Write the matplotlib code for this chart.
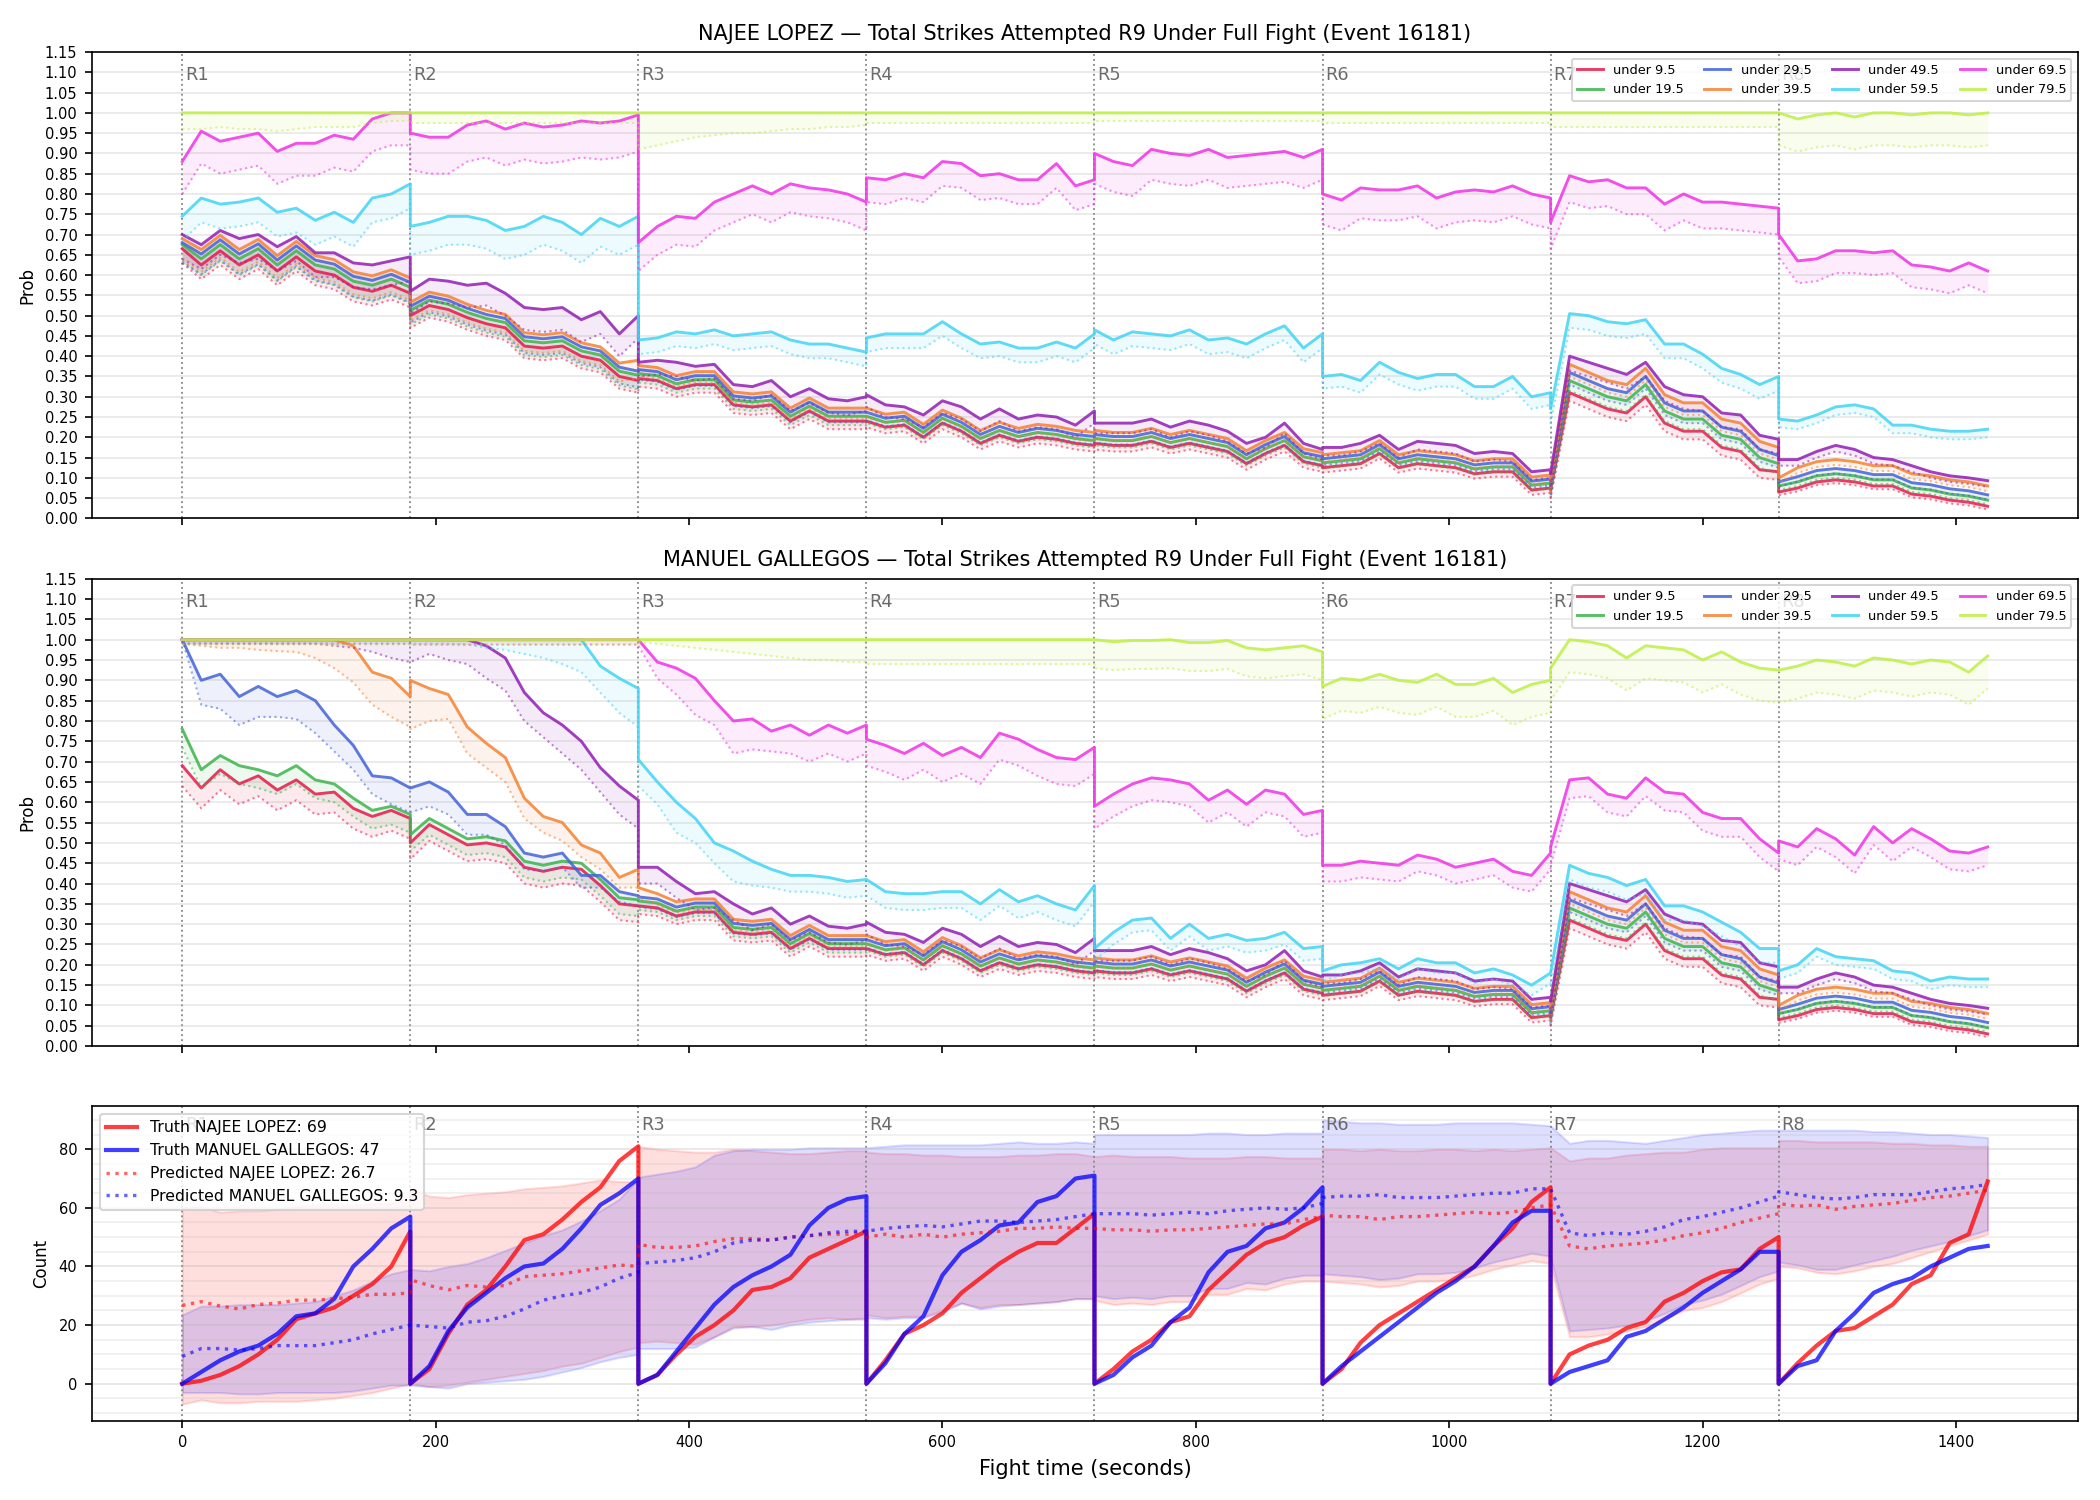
import numpy as np
import matplotlib
matplotlib.use("Agg")
from matplotlib import pyplot as plt
from matplotlib.ticker import MultipleLocator
import matplotlib.transforms as mtransforms

# ------------------------------------------------------------------
# Datos: una lista por asalto (muestras cada 15 s dentro del asalto)
# ------------------------------------------------------------------
ROUND_STARTS = [0, 180, 360, 540, 720, 900, 1080, 1260]
ROUND_OFFSETS = [list(range(0, 181, 15))] * 7 + [list(range(0, 166, 15))]

THRESHOLDS = ["under 9.5", "under 19.5", "under 29.5", "under 39.5",
              "under 49.5", "under 59.5", "under 69.5", "under 79.5"]
COLORS = ["#e6194b", "#3cb44b", "#4363d8", "#f58231",
          "#911eb4", "#42d4f4", "#f032e6", "#bfef45"]

# --- NAJEE LOPEZ, probabilidades ---
lop_u9 = [
    [0.665, 0.625, 0.66, 0.625, 0.65, 0.61, 0.645, 0.61, 0.60, 0.57, 0.56, 0.575, 0.555],
    [0.50, 0.525, 0.515, 0.495, 0.48, 0.47, 0.425, 0.42, 0.425, 0.40, 0.39, 0.35, 0.34],
    [0.345, 0.34, 0.32, 0.33, 0.33, 0.28, 0.275, 0.28, 0.24, 0.265, 0.24, 0.24, 0.24],
    [0.24, 0.225, 0.23, 0.20, 0.235, 0.215, 0.185, 0.205, 0.19, 0.20, 0.195, 0.185, 0.18],
    [0.185, 0.18, 0.18, 0.19, 0.175, 0.185, 0.175, 0.165, 0.135, 0.16, 0.18, 0.14, 0.13],
    [0.125, 0.13, 0.135, 0.16, 0.125, 0.135, 0.13, 0.125, 0.11, 0.115, 0.115, 0.07, 0.075],
    [0.07, 0.31, 0.29, 0.27, 0.26, 0.30, 0.235, 0.215, 0.215, 0.175, 0.165, 0.12, 0.115],
    [0.065, 0.075, 0.09, 0.095, 0.09, 0.08, 0.08, 0.06, 0.055, 0.045, 0.04, 0.03],
]
lop_u19 = [
    [0.675, 0.64, 0.675, 0.64, 0.665, 0.625, 0.66, 0.625, 0.615, 0.585, 0.575, 0.59, 0.57],
    [0.513, 0.538, 0.528, 0.508, 0.493, 0.483, 0.438, 0.433, 0.438, 0.413, 0.403, 0.363, 0.353],
    [0.357, 0.352, 0.332, 0.342, 0.342, 0.292, 0.287, 0.292, 0.252, 0.277, 0.252, 0.252, 0.252],
    [0.252, 0.237, 0.242, 0.212, 0.247, 0.227, 0.197, 0.217, 0.202, 0.212, 0.207, 0.197, 0.192],
    [0.197, 0.192, 0.192, 0.202, 0.187, 0.197, 0.187, 0.177, 0.147, 0.172, 0.192, 0.152, 0.142],
    [0.137, 0.142, 0.147, 0.172, 0.137, 0.147, 0.142, 0.137, 0.122, 0.127, 0.127, 0.082, 0.087],
    [0.08, 0.34, 0.32, 0.30, 0.29, 0.33, 0.265, 0.245, 0.245, 0.205, 0.195, 0.15, 0.135],
    [0.08, 0.09, 0.105, 0.11, 0.105, 0.095, 0.095, 0.075, 0.07, 0.06, 0.055, 0.045],
]
lop_u29 = [
    [0.68, 0.652, 0.687, 0.652, 0.677, 0.637, 0.672, 0.637, 0.627, 0.597, 0.587, 0.602, 0.582],
    [0.523, 0.548, 0.538, 0.518, 0.503, 0.493, 0.448, 0.443, 0.448, 0.423, 0.413, 0.373, 0.363],
    [0.367, 0.362, 0.342, 0.352, 0.352, 0.302, 0.297, 0.302, 0.262, 0.287, 0.262, 0.262, 0.262],
    [0.262, 0.247, 0.252, 0.222, 0.257, 0.237, 0.207, 0.227, 0.212, 0.222, 0.217, 0.207, 0.202],
    [0.207, 0.202, 0.202, 0.212, 0.197, 0.207, 0.197, 0.187, 0.157, 0.182, 0.202, 0.162, 0.152],
    [0.147, 0.152, 0.157, 0.182, 0.147, 0.157, 0.152, 0.147, 0.132, 0.137, 0.137, 0.092, 0.097],
    [0.085, 0.36, 0.34, 0.32, 0.31, 0.35, 0.285, 0.265, 0.265, 0.225, 0.215, 0.17, 0.155],
    [0.09, 0.103, 0.118, 0.123, 0.118, 0.108, 0.108, 0.088, 0.083, 0.073, 0.068, 0.058],
]
lop_u39 = [
    [0.69, 0.663, 0.698, 0.663, 0.688, 0.648, 0.683, 0.648, 0.638, 0.608, 0.598, 0.613, 0.593],
    [0.533, 0.558, 0.548, 0.528, 0.513, 0.503, 0.458, 0.453, 0.458, 0.433, 0.423, 0.383, 0.39],
    [0.377, 0.372, 0.352, 0.362, 0.362, 0.312, 0.307, 0.312, 0.272, 0.297, 0.272, 0.272, 0.272],
    [0.272, 0.257, 0.262, 0.232, 0.267, 0.247, 0.217, 0.237, 0.222, 0.232, 0.227, 0.217, 0.212],
    [0.217, 0.212, 0.212, 0.222, 0.207, 0.217, 0.207, 0.197, 0.167, 0.192, 0.212, 0.172, 0.162],
    [0.157, 0.162, 0.167, 0.192, 0.157, 0.167, 0.162, 0.157, 0.142, 0.147, 0.147, 0.102, 0.107],
    [0.095, 0.38, 0.36, 0.34, 0.33, 0.37, 0.305, 0.285, 0.285, 0.245, 0.235, 0.19, 0.175],
    [0.10, 0.125, 0.14, 0.145, 0.14, 0.13, 0.13, 0.11, 0.105, 0.095, 0.09, 0.08],
]
lop_u49 = [
    [0.70, 0.675, 0.71, 0.69, 0.70, 0.67, 0.695, 0.655, 0.655, 0.63, 0.625, 0.635, 0.645],
    [0.56, 0.59, 0.585, 0.575, 0.58, 0.555, 0.52, 0.515, 0.52, 0.49, 0.51, 0.455, 0.50],
    [0.385, 0.39, 0.385, 0.375, 0.38, 0.33, 0.325, 0.34, 0.30, 0.32, 0.295, 0.29, 0.30],
    [0.305, 0.28, 0.275, 0.255, 0.29, 0.275, 0.245, 0.27, 0.245, 0.255, 0.25, 0.23, 0.265],
    [0.235, 0.235, 0.235, 0.245, 0.225, 0.24, 0.23, 0.215, 0.185, 0.20, 0.235, 0.185, 0.17],
    [0.175, 0.175, 0.185, 0.205, 0.17, 0.19, 0.185, 0.18, 0.16, 0.165, 0.16, 0.115, 0.12],
    [0.11, 0.40, 0.385, 0.37, 0.355, 0.385, 0.325, 0.305, 0.30, 0.26, 0.255, 0.205, 0.195],
    [0.145, 0.145, 0.165, 0.18, 0.17, 0.15, 0.145, 0.13, 0.115, 0.105, 0.10, 0.093],
]
lop_u59 = [
    [0.745, 0.79, 0.775, 0.78, 0.79, 0.755, 0.765, 0.735, 0.755, 0.73, 0.79, 0.80, 0.825],
    [0.72, 0.73, 0.745, 0.745, 0.735, 0.71, 0.72, 0.745, 0.73, 0.70, 0.74, 0.72, 0.745],
    [0.44, 0.445, 0.46, 0.455, 0.465, 0.45, 0.455, 0.46, 0.44, 0.43, 0.43, 0.42, 0.41],
    [0.445, 0.455, 0.455, 0.455, 0.485, 0.455, 0.43, 0.435, 0.42, 0.42, 0.435, 0.42, 0.455],
    [0.465, 0.44, 0.46, 0.455, 0.45, 0.465, 0.44, 0.445, 0.43, 0.455, 0.475, 0.42, 0.455],
    [0.35, 0.355, 0.34, 0.385, 0.36, 0.345, 0.355, 0.355, 0.325, 0.325, 0.35, 0.30, 0.31],
    [0.27, 0.505, 0.50, 0.485, 0.48, 0.49, 0.43, 0.43, 0.405, 0.37, 0.355, 0.33, 0.35],
    [0.245, 0.24, 0.255, 0.275, 0.28, 0.27, 0.23, 0.23, 0.22, 0.215, 0.215, 0.22],
]
lop_u69 = [
    [0.88, 0.955, 0.93, 0.94, 0.95, 0.905, 0.925, 0.925, 0.945, 0.935, 0.985, 1.0, 1.0],
    [0.95, 0.94, 0.94, 0.97, 0.98, 0.96, 0.975, 0.965, 0.97, 0.98, 0.975, 0.98, 0.995],
    [0.68, 0.72, 0.745, 0.74, 0.78, 0.80, 0.82, 0.80, 0.825, 0.815, 0.81, 0.80, 0.78],
    [0.84, 0.835, 0.85, 0.84, 0.88, 0.875, 0.845, 0.85, 0.835, 0.835, 0.875, 0.82, 0.835],
    [0.90, 0.88, 0.87, 0.91, 0.90, 0.895, 0.91, 0.89, 0.895, 0.90, 0.905, 0.89, 0.91],
    [0.80, 0.785, 0.815, 0.81, 0.81, 0.82, 0.79, 0.805, 0.81, 0.805, 0.82, 0.80, 0.79],
    [0.73, 0.845, 0.83, 0.835, 0.815, 0.815, 0.775, 0.80, 0.78, 0.78, 0.775, 0.77, 0.765],
    [0.70, 0.635, 0.64, 0.66, 0.66, 0.655, 0.66, 0.625, 0.62, 0.61, 0.63, 0.61],
]
lop_u79 = [
    [1.0, 1.0, 1.0, 1.0, 1.0, 1.0, 1.0, 1.0, 1.0, 1.0, 1.0, 1.0, 1.0],
    [1.0, 1.0, 1.0, 1.0, 1.0, 1.0, 1.0, 1.0, 1.0, 1.0, 1.0, 1.0, 1.0],
    [1.0, 1.0, 1.0, 1.0, 1.0, 1.0, 1.0, 1.0, 1.0, 1.0, 1.0, 1.0, 1.0],
    [1.0, 1.0, 1.0, 1.0, 1.0, 1.0, 1.0, 1.0, 1.0, 1.0, 1.0, 1.0, 1.0],
    [1.0, 1.0, 1.0, 1.0, 1.0, 1.0, 1.0, 1.0, 1.0, 1.0, 1.0, 1.0, 1.0],
    [1.0, 1.0, 1.0, 1.0, 1.0, 1.0, 1.0, 1.0, 1.0, 1.0, 1.0, 1.0, 1.0],
    [1.0, 1.0, 1.0, 1.0, 1.0, 1.0, 1.0, 1.0, 1.0, 1.0, 1.0, 1.0, 1.0],
    [1.0, 0.985, 0.995, 1.0, 0.99, 1.0, 1.0, 0.995, 1.0, 1.0, 0.995, 1.0],
]

# anchura de la banda (linea solida - linea punteada), por asalto
lop_w9 = [0.035, 0.03, 0.02, 0.015, 0.015, 0.012, 0.02, 0.008]
lop_w19 = [0.04, 0.035, 0.022, 0.017, 0.017, 0.014, 0.025, 0.01]
lop_w29 = [0.05, 0.04, 0.025, 0.02, 0.02, 0.016, 0.03, 0.012]
lop_w39 = [0.055, 0.045, 0.027, 0.022, 0.02, 0.018, 0.03, 0.013]
lop_w49 = [0.06, 0.055, 0.035, 0.03, 0.025, 0.02, 0.035, 0.015]
lop_w59 = [0.06, 0.07, 0.035, 0.035, 0.035, 0.03, 0.035, 0.02]
lop_w69 = [0.08, 0.09, 0.07, 0.06, 0.075, 0.075, 0.065, 0.055]
lop_w79 = [[0.04, 0.04, 0.035, 0.04, 0.04, 0.045, 0.04, 0.035, 0.035, 0.035, 0.025, 0.02, 0.02],
           0.025,
           [0.09, 0.08, 0.07, 0.06, 0.055, 0.05, 0.05, 0.045, 0.04, 0.04, 0.035, 0.035, 0.03],
           0.025, 0.02, 0.025, 0.035, 0.08]

# --- MANUEL GALLEGOS, probabilidades ---
gal_u9 = [
    [0.69, 0.635, 0.68, 0.645, 0.665, 0.63, 0.655, 0.62, 0.625, 0.585, 0.565, 0.58, 0.56],
    [0.50, 0.545, 0.52, 0.495, 0.50, 0.49, 0.44, 0.43, 0.44, 0.435, 0.395, 0.35, 0.345],
] + lop_u9[2:]
gal_u19 = [
    [0.78, 0.68, 0.715, 0.69, 0.68, 0.665, 0.69, 0.655, 0.645, 0.61, 0.58, 0.59, 0.57],
    [0.52, 0.56, 0.535, 0.51, 0.515, 0.505, 0.455, 0.445, 0.455, 0.45, 0.41, 0.365, 0.36],
] + lop_u19[2:]
gal_u29 = [
    [1.0, 0.90, 0.915, 0.86, 0.885, 0.86, 0.875, 0.85, 0.79, 0.74, 0.665, 0.66, 0.635],
    [0.635, 0.65, 0.625, 0.57, 0.57, 0.54, 0.475, 0.465, 0.475, 0.42, 0.42, 0.38, 0.37],
] + lop_u29[2:]
gal_u39 = [
    [1.0, 1.0, 1.0, 1.0, 1.0, 1.0, 1.0, 1.0, 1.0, 0.985, 0.92, 0.905, 0.86],
    [0.90, 0.88, 0.865, 0.785, 0.745, 0.71, 0.61, 0.565, 0.55, 0.495, 0.475, 0.415, 0.435],
    [0.39, 0.375, 0.355, 0.362, 0.362, 0.312, 0.307, 0.312, 0.272, 0.297, 0.272, 0.272, 0.272],
] + lop_u39[3:]
gal_u49 = [
    [1.0, 1.0, 1.0, 1.0, 1.0, 1.0, 1.0, 1.0, 1.0, 1.0, 1.0, 1.0, 1.0],
    [1.0, 1.0, 1.0, 1.0, 0.985, 0.955, 0.87, 0.82, 0.79, 0.75, 0.685, 0.64, 0.605],
    [0.44, 0.44, 0.405, 0.375, 0.38, 0.35, 0.325, 0.34, 0.30, 0.32, 0.295, 0.29, 0.30],
] + lop_u49[3:]
gal_u59 = [
    [1.0, 1.0, 1.0, 1.0, 1.0, 1.0, 1.0, 1.0, 1.0, 1.0, 1.0, 1.0, 1.0],
    [1.0, 1.0, 1.0, 1.0, 1.0, 1.0, 1.0, 1.0, 1.0, 1.0, 0.935, 0.905, 0.88],
    [0.705, 0.65, 0.60, 0.56, 0.50, 0.48, 0.455, 0.435, 0.42, 0.42, 0.415, 0.405, 0.41],
    [0.41, 0.38, 0.375, 0.375, 0.38, 0.38, 0.35, 0.385, 0.355, 0.37, 0.35, 0.335, 0.395],
    [0.24, 0.28, 0.31, 0.315, 0.265, 0.30, 0.265, 0.275, 0.26, 0.265, 0.28, 0.24, 0.245],
    [0.185, 0.20, 0.205, 0.215, 0.19, 0.215, 0.205, 0.205, 0.18, 0.19, 0.175, 0.15, 0.18],
    [0.18, 0.445, 0.425, 0.415, 0.395, 0.41, 0.345, 0.345, 0.33, 0.305, 0.28, 0.24, 0.24],
    [0.185, 0.20, 0.24, 0.22, 0.215, 0.21, 0.185, 0.18, 0.16, 0.17, 0.165, 0.165],
]
gal_u69 = [
    [1.0, 1.0, 1.0, 1.0, 1.0, 1.0, 1.0, 1.0, 1.0, 1.0, 1.0, 1.0, 1.0],
    [1.0, 1.0, 1.0, 1.0, 1.0, 1.0, 1.0, 1.0, 1.0, 1.0, 1.0, 1.0, 1.0],
    [1.0, 0.945, 0.93, 0.905, 0.85, 0.80, 0.805, 0.775, 0.79, 0.765, 0.79, 0.77, 0.79],
    [0.755, 0.74, 0.72, 0.745, 0.715, 0.735, 0.71, 0.77, 0.755, 0.73, 0.71, 0.705, 0.735],
    [0.59, 0.62, 0.645, 0.66, 0.655, 0.645, 0.605, 0.63, 0.595, 0.63, 0.62, 0.57, 0.58],
    [0.445, 0.445, 0.455, 0.45, 0.445, 0.47, 0.46, 0.44, 0.45, 0.46, 0.43, 0.42, 0.475],
    [0.49, 0.655, 0.66, 0.62, 0.61, 0.66, 0.625, 0.62, 0.575, 0.56, 0.56, 0.51, 0.475],
    [0.505, 0.49, 0.535, 0.51, 0.47, 0.54, 0.50, 0.535, 0.51, 0.48, 0.475, 0.49],
]
gal_u79 = [
    [1.0, 1.0, 1.0, 1.0, 1.0, 1.0, 1.0, 1.0, 1.0, 1.0, 1.0, 1.0, 1.0],
    [1.0, 1.0, 1.0, 1.0, 1.0, 1.0, 1.0, 1.0, 1.0, 1.0, 1.0, 1.0, 1.0],
    [1.0, 1.0, 1.0, 1.0, 1.0, 1.0, 1.0, 1.0, 1.0, 1.0, 1.0, 1.0, 1.0],
    [1.0, 1.0, 1.0, 1.0, 1.0, 1.0, 1.0, 1.0, 1.0, 1.0, 1.0, 1.0, 1.0],
    [1.0, 0.995, 0.998, 0.998, 1.0, 0.993, 0.993, 0.998, 0.98, 0.975, 0.98, 0.985, 0.97],
    [0.885, 0.905, 0.90, 0.915, 0.90, 0.895, 0.915, 0.89, 0.89, 0.905, 0.87, 0.89, 0.90],
    [0.93, 1.0, 0.995, 0.985, 0.955, 0.985, 0.98, 0.975, 0.95, 0.97, 0.945, 0.93, 0.925],
    [0.925, 0.935, 0.95, 0.945, 0.935, 0.955, 0.95, 0.94, 0.95, 0.945, 0.92, 0.96],
]

gal_w9 = [0.05, 0.04, 0.02, 0.015, 0.015, 0.012, 0.02, 0.008]
gal_w19 = [0.045, 0.04, 0.022, 0.017, 0.017, 0.014, 0.025, 0.01]
gal_w29 = [[0.0, 0.06, 0.085, 0.07, 0.075, 0.05, 0.07, 0.08, 0.065, 0.06, 0.045, 0.065, 0.06],
           [0.06, 0.06, 0.055, 0.05, 0.05, 0.045, 0.04, 0.035, 0.035, 0.03, 0.03, 0.025, 0.025],
           0.025, 0.02, 0.02, 0.016, 0.03, 0.012]
gal_w39 = [[0.01, 0.015, 0.02, 0.02, 0.025, 0.028, 0.03, 0.045, 0.07, 0.09, 0.08, 0.095, 0.075],
           [0.12, 0.08, 0.06, 0.065, 0.06, 0.06, 0.05, 0.04, 0.045, 0.03, 0.04, 0.025, 0.045],
           0.027, 0.022, 0.02, 0.018, 0.03, 0.013]
gal_w49 = [[0.01, 0.01, 0.01, 0.01, 0.01, 0.01, 0.01, 0.01, 0.015, 0.02, 0.03, 0.045, 0.055],
           [0.055, 0.035, 0.05, 0.06, 0.08, 0.08, 0.07, 0.06, 0.07, 0.07, 0.06, 0.07, 0.07],
           0.04, 0.03, 0.025, 0.02, 0.035, 0.015]
gal_w59 = [0.01,
           [0.01, 0.01, 0.01, 0.012, 0.02, 0.025, 0.035, 0.045, 0.06, 0.08, 0.065, 0.085, 0.095],
           [0.065, 0.055, 0.075, 0.06, 0.05, 0.075, 0.06, 0.045, 0.04, 0.04, 0.04, 0.04, 0.04],
           0.04, 0.03, 0.025, 0.035, 0.02]
gal_w69 = [0.01, 0.012,
           [0.015, 0.04, 0.065, 0.09, 0.06, 0.08, 0.075, 0.05, 0.07, 0.065, 0.07, 0.07, 0.07],
           0.065, 0.055, 0.04, 0.045, 0.045]
gal_w79 = [0.012, 0.012,
           [0.007, 0.01, 0.015, 0.02, 0.025, 0.03, 0.035, 0.04, 0.045, 0.05, 0.05, 0.055, 0.055],
           0.06, 0.07, 0.08, 0.08, 0.08]

# --- Conteos (panel inferior) ---
truth_lopez = [
    [0, 1, 3, 6, 10, 15, 22, 24, 26, 30, 34, 40, 52],
    [0, 5, 17, 27, 32, 40, 49, 51, 56, 62, 67, 76, 81],
    [0, 3, 10, 16, 20, 25, 32, 33, 36, 43, 46, 49, 52],
    [0, 8, 17, 20, 24, 31, 36, 41, 45, 48, 48, 53, 58],
    [0, 5, 11, 15, 21, 23, 32, 38, 44, 48, 50, 54, 57],
    [0, 5, 14, 20, 24, 28, 32, 36, 40, 47, 53, 62, 67],
    [0, 10, 13, 15, 19, 21, 28, 31, 35, 38, 39, 46, 50],
    [0, 7, 13, 18, 19, 23, 27, 34, 37, 48, 51, 69],
]
truth_gallegos = [
    [0, 4, 8, 11, 13, 17, 23, 24, 29, 40, 46, 53, 57],
    [0, 6, 18, 26, 31, 36, 40, 41, 46, 53, 61, 65, 70],
    [0, 3, 11, 19, 27, 33, 37, 40, 44, 54, 60, 63, 64],
    [0, 7, 17, 23, 37, 45, 49, 54, 55, 62, 64, 70, 71],
    [0, 3, 9, 13, 21, 26, 38, 45, 47, 53, 55, 60, 67],
    [0, 6, 11, 16, 21, 26, 31, 35, 40, 47, 55, 59, 59],
    [0, 4, 6, 8, 16, 18, 22, 26, 31, 35, 39, 45, 45],
    [0, 6, 8, 18, 24, 31, 34, 36, 40, 43, 46, 47],
]
pred_lopez = [
    [26.7, 28, 26.5, 25.5, 27, 27.5, 28.5, 28.5, 29, 29.5, 30.5, 30.5, 31],
    [35.5, 33.5, 32, 33.5, 33, 33.5, 36.5, 37, 37.5, 38.5, 39.5, 40.5, 40],
    [47.5, 46.5, 46.5, 47, 48.5, 49.5, 49.5, 49, 50, 50.5, 51, 51, 52],
    [50, 51, 50, 51, 50, 51, 51.5, 52, 53, 53, 53.5, 53, 53],
    [53, 52.5, 52.5, 52, 52.5, 52.5, 53, 53.5, 54, 54.5, 54.5, 56, 57],
    [57.5, 57, 57, 56, 57, 57, 57.5, 58, 58.5, 58, 58.5, 60, 61],
    [61, 47, 46, 47, 47.5, 48, 49, 50.5, 51.5, 53, 55, 56.5, 58],
    [61.5, 60.5, 61, 59.5, 60.5, 61, 61.5, 62.5, 63.5, 64, 65, 66],
]
pred_gallegos = [
    [9.3, 12, 12, 11.5, 12, 13, 13, 13, 14, 15, 17, 18.5, 20],
    [20, 19.5, 19, 21, 21.5, 23, 25.5, 28.5, 30, 31, 33, 36, 38],
    [41, 41.5, 42, 43, 45, 48, 49, 49, 50, 50.5, 51.5, 52, 52],
    [52, 53, 53.5, 54, 53.5, 54.5, 55.5, 55.5, 55, 55.5, 56, 57, 58],
    [58, 58, 58, 57.5, 58, 58.5, 58, 59, 59.5, 60, 59.5, 60, 61.5],
    [63.5, 64, 64, 64.5, 63.5, 63.5, 63.5, 64, 64.5, 65, 65, 66.5, 66.5],
    [66.5, 51.5, 50.5, 51.5, 51, 52, 53.5, 56, 57, 58.5, 60, 62, 64],
    [65.5, 64.5, 63.5, 63, 63.5, 64.5, 64.5, 64.5, 65.5, 66.5, 67, 68],
]
band_lopez_hi = [
    [60, 60.5, 58.5, 59, 59, 59.5, 60.5, 61, 61, 61, 61.5, 61.5, 64],
    [66.5, 64, 63.5, 64.5, 65, 65.5, 66.5, 67, 67.5, 68.5, 69.5, 69, 69],
    [81, 80, 79.5, 79, 79, 80, 79.5, 79, 78.5, 78.5, 79, 79.5, 79.5],
    [79, 78.5, 78.5, 78, 78, 77.5, 77.5, 77.5, 78, 78, 78.5, 78.5, 77.5],
    [77.5, 78, 77.5, 77.5, 77.5, 77, 77, 77, 77.5, 77.5, 77, 77, 77],
    [80, 80, 79.5, 80, 79.5, 79.5, 80, 80, 79.5, 80, 79.5, 80, 80.5],
    [80.5, 76, 77, 77, 78, 78.5, 79, 79, 80, 80.5, 80.5, 80.5, 80.5],
    [83, 83, 82.5, 82.5, 82.5, 82.5, 82, 82, 81.5, 81.5, 81, 81],
]
band_lopez_lo = [
    [-7, -5.5, -6.5, -6.5, -6, -6, -6, -5.5, -5, -4, -3, -1.5, 0],
    [0, -1, -0.5, 0.5, 1.5, 2.5, 3.5, 4.5, 6, 7, 9, 11, 12.5],
    [14, 14.5, 14, 13.5, 16, 19.5, 19.5, 20, 21, 22, 22.5, 22, 22.5],
    [23.5, 22.5, 23, 23, 25, 27.5, 26, 27, 27, 27.5, 28, 29, 29],
    [28.5, 27, 27.5, 27, 28, 28, 30.5, 30.5, 32.5, 32, 34, 35, 35],
    [35, 34.5, 34, 33, 33.5, 35, 35, 35.5, 37, 39, 40.5, 42, 41],
    [40, 16, 16, 17, 18, 19.5, 22, 25, 26, 28, 31, 34, 36],
    [40, 39.5, 38, 37.5, 38.5, 40, 41, 43, 45, 47, 49, 51],
]
band_gallegos_hi = [
    [23.5, 26.5, 26.5, 27, 27, 27, 27.5, 28, 30, 32, 35, 37.5, 39],
    [39, 38.5, 40, 41, 43, 45.5, 48, 50.5, 52.5, 55.5, 59, 63, 70],
    [70.5, 71.5, 72.5, 74, 78, 79.5, 80, 80, 80, 80.5, 80.5, 80.5, 80.5],
    [80.5, 81, 81.5, 81.5, 81.5, 81.5, 81.5, 82, 82.5, 82, 82, 82.5, 82],
    [85, 85, 85, 85, 85, 85, 85.5, 85.5, 85, 85, 85.5, 85.5, 85.5],
    [90, 89.5, 89, 89, 88.5, 88.5, 88.5, 89, 89, 89, 89, 88.5, 88],
    [88, 82, 83, 83, 82.5, 82, 83, 84, 85, 85.5, 86, 86.5, 86.5],
    [86.5, 86.5, 86.5, 86.5, 86.5, 86, 86, 85.5, 85, 85, 84.5, 84],
]
band_gallegos_lo = [
    [-3, -3, -3, -3.5, -3.5, -3, -3, -3, -3, -2.5, -1.5, -0.5, -0.5],
    [-0.5, -1, -1.5, 0, 0.5, 1, 1.5, 2.5, 4, 5.5, 7.5, 9, 10],
    [12, 12, 12, 12.5, 16, 19, 19.5, 18.5, 20, 21, 21.5, 22, 22],
    [22.5, 22, 22.5, 22.5, 24.5, 27.5, 25.5, 26.5, 27, 27.5, 28, 29, 29],
    [30, 29, 29.5, 29, 30, 30, 32.5, 32.5, 34.5, 34, 36, 37, 37],
    [37.5, 37, 36.5, 35.5, 36, 37.5, 37.5, 38, 39.5, 41.5, 43, 44.5, 43.5],
    [43, 18, 18.5, 19, 20, 21.5, 24, 27, 28.5, 30.5, 33.5, 36.5, 38.5],
    [41.5, 40.5, 39, 39, 40.5, 42, 43.5, 45.5, 47, 48.5, 50.5, 52.5],
]


# ------------------------------------------------------------------
# Funciones auxiliares
# ------------------------------------------------------------------
def join(rounds):
    return np.concatenate([np.asarray(r, dtype=float) for r in rounds])


n_round = [len(o) for o in ROUND_OFFSETS]
t = join([[s + o for o in offs] for s, offs in zip(ROUND_STARTS, ROUND_OFFSETS)])


def band_width(widths):
    return np.concatenate([np.broadcast_to(np.asarray(w, dtype=float), (n,))
                           for w, n in zip(widths, n_round)])


def mark_rounds(ax):
    trans = mtransforms.blended_transform_factory(ax.transData, ax.transAxes)
    for i, s in enumerate(ROUND_STARTS):
        ax.axvline(s, color="gray", ls=":", lw=0.9, alpha=0.9, zorder=1)
        ax.text(s + 2, 0.97, "R%d" % (i + 1), transform=trans, va="top", ha="left",
                fontsize=8.5, color="dimgray", zorder=1)


def prob_panel(ax, series, widths, title):
    for label, color, vals, w in zip(THRESHOLDS, COLORS, series, widths):
        y = join(vals)
        lo = y - band_width(w)
        ax.fill_between(t, lo, y, color=color, alpha=0.09, linewidth=0)
        ax.plot(t, lo, color=color, lw=1.0, ls=":", alpha=0.55)
        ax.plot(t, y, color=color, lw=1.4, alpha=0.85, label=label)
    mark_rounds(ax)
    ax.set_ylim(0, 1.15)
    ax.yaxis.set_major_locator(MultipleLocator(0.05))
    ax.grid(axis="y", alpha=0.3)
    ax.set_ylabel("Prob", fontsize=8)
    ax.set_title(title, fontsize=10)
    ax.legend(loc="upper right", ncol=4, fontsize=6.2, columnspacing=1.6)


plt.rcParams["xtick.labelsize"] = 7
plt.rcParams["ytick.labelsize"] = 7

fig, axes = plt.subplots(3, 1, figsize=(14, 10), dpi=150, sharex=True,
                         gridspec_kw=dict(height_ratios=[466, 467, 314]))
plt.subplots_adjust(left=0.0438, right=0.9895, top=0.9653, bottom=0.0529, hspace=0.145)

prob_panel(axes[0],
           [lop_u9, lop_u19, lop_u29, lop_u39, lop_u49, lop_u59, lop_u69, lop_u79],
           [lop_w9, lop_w19, lop_w29, lop_w39, lop_w49, lop_w59, lop_w69, lop_w79],
           "NAJEE LOPEZ — Total Strikes Attempted R9 Under Full Fight (Event 16181)")
prob_panel(axes[1],
           [gal_u9, gal_u19, gal_u29, gal_u39, gal_u49, gal_u59, gal_u69, gal_u79],
           [gal_w9, gal_w19, gal_w29, gal_w39, gal_w49, gal_w59, gal_w69, gal_w79],
           "MANUEL GALLEGOS — Total Strikes Attempted R9 Under Full Fight (Event 16181)")

# panel inferior: conteos
ax = axes[2]
ax.fill_between(t, join(band_lopez_lo), join(band_lopez_hi), color="red", alpha=0.13)
ax.fill_between(t, join(band_gallegos_lo), join(band_gallegos_hi), color="blue", alpha=0.13)
ax.plot(t, join(truth_lopez), color="red", lw=2, alpha=0.75,
        label="Truth NAJEE LOPEZ: %d" % truth_lopez[-1][-1])
ax.plot(t, join(truth_gallegos), color="blue", lw=2, alpha=0.75,
        label="Truth MANUEL GALLEGOS: %d" % truth_gallegos[-1][-1])
ax.plot(t, join(pred_lopez), color="red", lw=1.6, ls=":", alpha=0.6,
        label="Predicted NAJEE LOPEZ: %.1f" % pred_lopez[0][0])
ax.plot(t, join(pred_gallegos), color="blue", lw=1.6, ls=":", alpha=0.6,
        label="Predicted MANUEL GALLEGOS: %.1f" % pred_gallegos[0][0])
mark_rounds(ax)
ax.set_ylim(-12.6, 94.6)
ax.yaxis.set_major_locator(MultipleLocator(20))
ax.yaxis.set_minor_locator(MultipleLocator(5))
ax.tick_params(axis="y", which="minor", length=0)
ax.grid(axis="y", which="major", alpha=0.35)
ax.grid(axis="y", which="minor", alpha=0.2)
ax.set_ylabel("Count", fontsize=8)
ax.set_xlabel("Fight time (seconds)", fontsize=10)
ax.legend(loc="upper left", fontsize=7.5)

plt.savefig("out.png", dpi=150)
